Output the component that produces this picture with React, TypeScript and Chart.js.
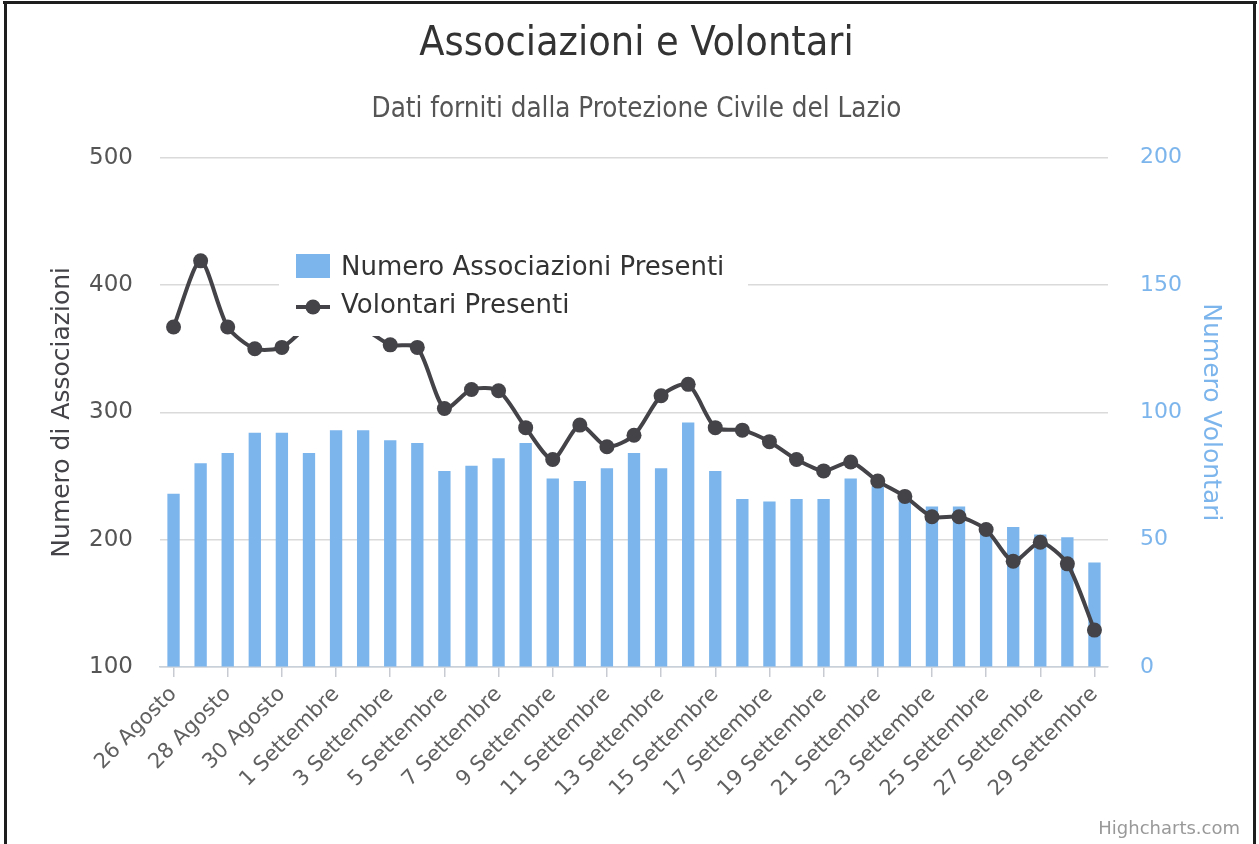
import React, { useEffect, useRef } from 'react';
import { Chart, registerables } from 'chart.js';

Chart.register(...registerables);

const categories = [
  '26 Agosto', '27 Agosto', '28 Agosto', '29 Agosto', '30 Agosto', '31 Agosto',
  '1 Settembre', '2 Settembre', '3 Settembre', '4 Settembre', '5 Settembre', '6 Settembre',
  '7 Settembre', '8 Settembre', '9 Settembre', '10 Settembre', '11 Settembre', '12 Settembre',
  '13 Settembre', '14 Settembre', '15 Settembre', '16 Settembre', '17 Settembre', '18 Settembre',
  '19 Settembre', '20 Settembre', '21 Settembre', '22 Settembre', '23 Settembre', '24 Settembre',
  '25 Settembre', '26 Settembre', '27 Settembre', '28 Settembre', '29 Settembre',
];

const associazioni = [
  68, 80, 84, 92, 92, 84, 93, 93, 89, 88, 77, 79, 82, 88, 74, 73, 78, 84, 78, 96,
  77, 66, 65, 66, 66, 74, 71, 65, 63, 63, 53, 55, 52, 51, 41,
];

const volontari = [
  367, 419, 367, 350, 351, 368, 372, 366, 353, 351, 303, 318, 317, 288, 263, 290, 273, 282,
  313, 322, 288, 286, 277, 263, 254, 261, 246, 234, 218, 218, 208, 183, 198, 181, 129,
];

const leftTicks = [100, 200, 300, 400, 500];
const rightTicks = [0, 50, 100, 150, 200];

const titleText = 'Associazioni e Volontari';
const subtitleText = 'Dati forniti dalla Protezione Civile del Lazio';
const leftAxisTitle = 'Numero di Associazioni';
const rightAxisTitle = 'Numero Volontari';
const legendLabels = ['Numero Associazioni Presenti', 'Volontari Presenti'];
const creditText = 'Highcharts.com';

const BAR_COLOR = '#7cb5ec';
const LINE_COLOR = '#434348';
const FONT = '"DejaVu Sans", "Lucida Grande", sans-serif';
const NARROW = '"Liberation Sans Narrow", "DejaVu Sans Condensed", sans-serif';

const overlayPlugin = {
  id: 'overlayLegend',
  afterDatasetsDraw(chart: any) {
    const c = chart.ctx as CanvasRenderingContext2D;
    c.save();
    c.fillStyle = '#ffffff';
    c.fillRect(279, 238, 469, 98);
    c.fillStyle = BAR_COLOR;
    c.fillRect(296, 254, 34, 24);
    c.strokeStyle = LINE_COLOR;
    c.lineWidth = 4;
    c.beginPath();
    c.moveTo(296, 307);
    c.lineTo(330, 307);
    c.stroke();
    c.beginPath();
    c.arc(313, 307, 7.5, 0, Math.PI * 2);
    c.fillStyle = LINE_COLOR;
    c.fill();
    c.font = '26px ' + FONT;
    c.fillStyle = '#333333';
    c.textBaseline = 'middle';
    c.textAlign = 'left';
    c.fillText(legendLabels[0], 341, 268);
    c.fillText(legendLabels[1], 341, 306);
    c.restore();
  },
  afterDraw(chart: any) {
    const c = chart.ctx as CanvasRenderingContext2D;
    c.save();
    c.font = '18px ' + FONT;
    c.fillStyle = '#999999';
    c.textAlign = 'right';
    c.textBaseline = 'middle';
    c.fillText(creditText, 1240, 829);
    c.restore();
  },
};

export default function App() {
  const ref = useRef<HTMLCanvasElement>(null);

  useEffect(() => {
    document.body.style.margin = '0';
    const canvas = ref.current;
    if (!canvas) return;
    const chart = new Chart(canvas, {
      type: 'bar',
      data: {
        labels: categories,
        datasets: [
          {
            type: 'line',
            label: legendLabels[1],
            data: volontari,
            yAxisID: 'y',
            borderColor: LINE_COLOR,
            backgroundColor: LINE_COLOR,
            borderWidth: 4,
            pointRadius: 7.5,
            pointBorderWidth: 0,
            pointBackgroundColor: LINE_COLOR,
            tension: 0.25,
            order: 0,
          } as any,
          {
            type: 'bar',
            label: legendLabels[0],
            data: associazioni,
            yAxisID: 'y1',
            backgroundColor: BAR_COLOR,
            barPercentage: 0.455,
            categoryPercentage: 1,
            order: 1,
          } as any,
        ],
      },
      options: {
        responsive: false,
        animation: false,
        devicePixelRatio: 1,
        layout: { padding: { left: 14, right: 0, top: 0, bottom: 0 } },
        plugins: {
          legend: { display: false },
          tooltip: { enabled: false },
          title: {
            display: true,
            text: titleText,
            color: '#333333',
            font: { family: NARROW, size: 41, weight: 'normal' },
            padding: { top: 20, bottom: 0 },
          },
          subtitle: {
            display: true,
            text: subtitleText,
            color: '#555555',
            font: { family: NARROW, size: 27.5, weight: 'normal' },
            padding: { top: 24, bottom: 31.5 },
          },
        },
        scales: {
          x: {
            type: 'category',
            offset: true,
            afterFit: (s: any) => { s.height = 177; },
            grid: {
              offset: false,
              drawOnChartArea: false,
              drawTicks: true,
              tickLength: 10,
              lineWidth: 1.5,
              color: (ctx: any) => (ctx.index % 2 === 0 ? '#c8ccd2' : 'rgba(0,0,0,0)'),
            },
            border: { display: true, color: '#c8d0da', width: 1.5 },
            ticks: {
              autoSkip: false,
              maxRotation: 45,
              minRotation: 45,
              padding: 5,
              color: '#606060',
              font: { family: FONT, size: 21 },
              callback: (_v: any, i: number) => (i % 2 === 0 ? categories[i] : ''),
            },
          },
          y: {
            type: 'linear',
            position: 'left',
            min: 100,
            max: 500,
            afterFit: (s: any) => { s.width = 146; },
            afterBuildTicks: (s: any) => { s.ticks = leftTicks.map((v) => ({ value: v })); },
            grid: { color: '#dadada', lineWidth: 1.5, drawTicks: false },
            border: { display: false },
            ticks: {
              padding: 27,
              color: '#555555',
              font: { family: FONT, size: 23 },
            },
            title: {
              display: true,
              text: leftAxisTitle,
              color: '#434348',
              font: { family: FONT, size: 25 },
              padding: { top: 33, bottom: 0 },
            },
          },
          y1: {
            type: 'linear',
            position: 'right',
            min: 0,
            max: 200,
            afterFit: (s: any) => { s.width = 151; },
            afterBuildTicks: (s: any) => { s.ticks = rightTicks.map((v) => ({ value: v })); },
            grid: { drawOnChartArea: false, drawTicks: false },
            border: { display: false },
            ticks: {
              padding: 32,
              color: '#7cb5ec',
              font: { family: FONT, size: 22 },
            },
            title: {
              display: true,
              text: rightAxisTitle,
              color: '#7cb5ec',
              font: { family: FONT, size: 25 },
              padding: { top: 34, bottom: 0 },
            },
          },
        },
      },
      plugins: [overlayPlugin],
    } as any);
    return () => chart.destroy();
  }, []);

  return (
    <div style={{ position: 'absolute', left: 0, top: 0, width: 1259, height: 844, background: '#ffffff', overflow: 'hidden' }}>
      <canvas ref={ref} width={1259} height={844} style={{ display: 'block', width: 1259, height: 844 }} />
      <div style={{ position: 'absolute', left: 3, top: 1, width: 1254, height: 3, background: '#1e1e1e' }} />
      <div style={{ position: 'absolute', left: 4, top: 1, width: 3, height: 843, background: '#1e1e1e' }} />
      <div style={{ position: 'absolute', left: 1253, top: 1, width: 3, height: 843, background: '#1e1e1e' }} />
    </div>
  );
}
